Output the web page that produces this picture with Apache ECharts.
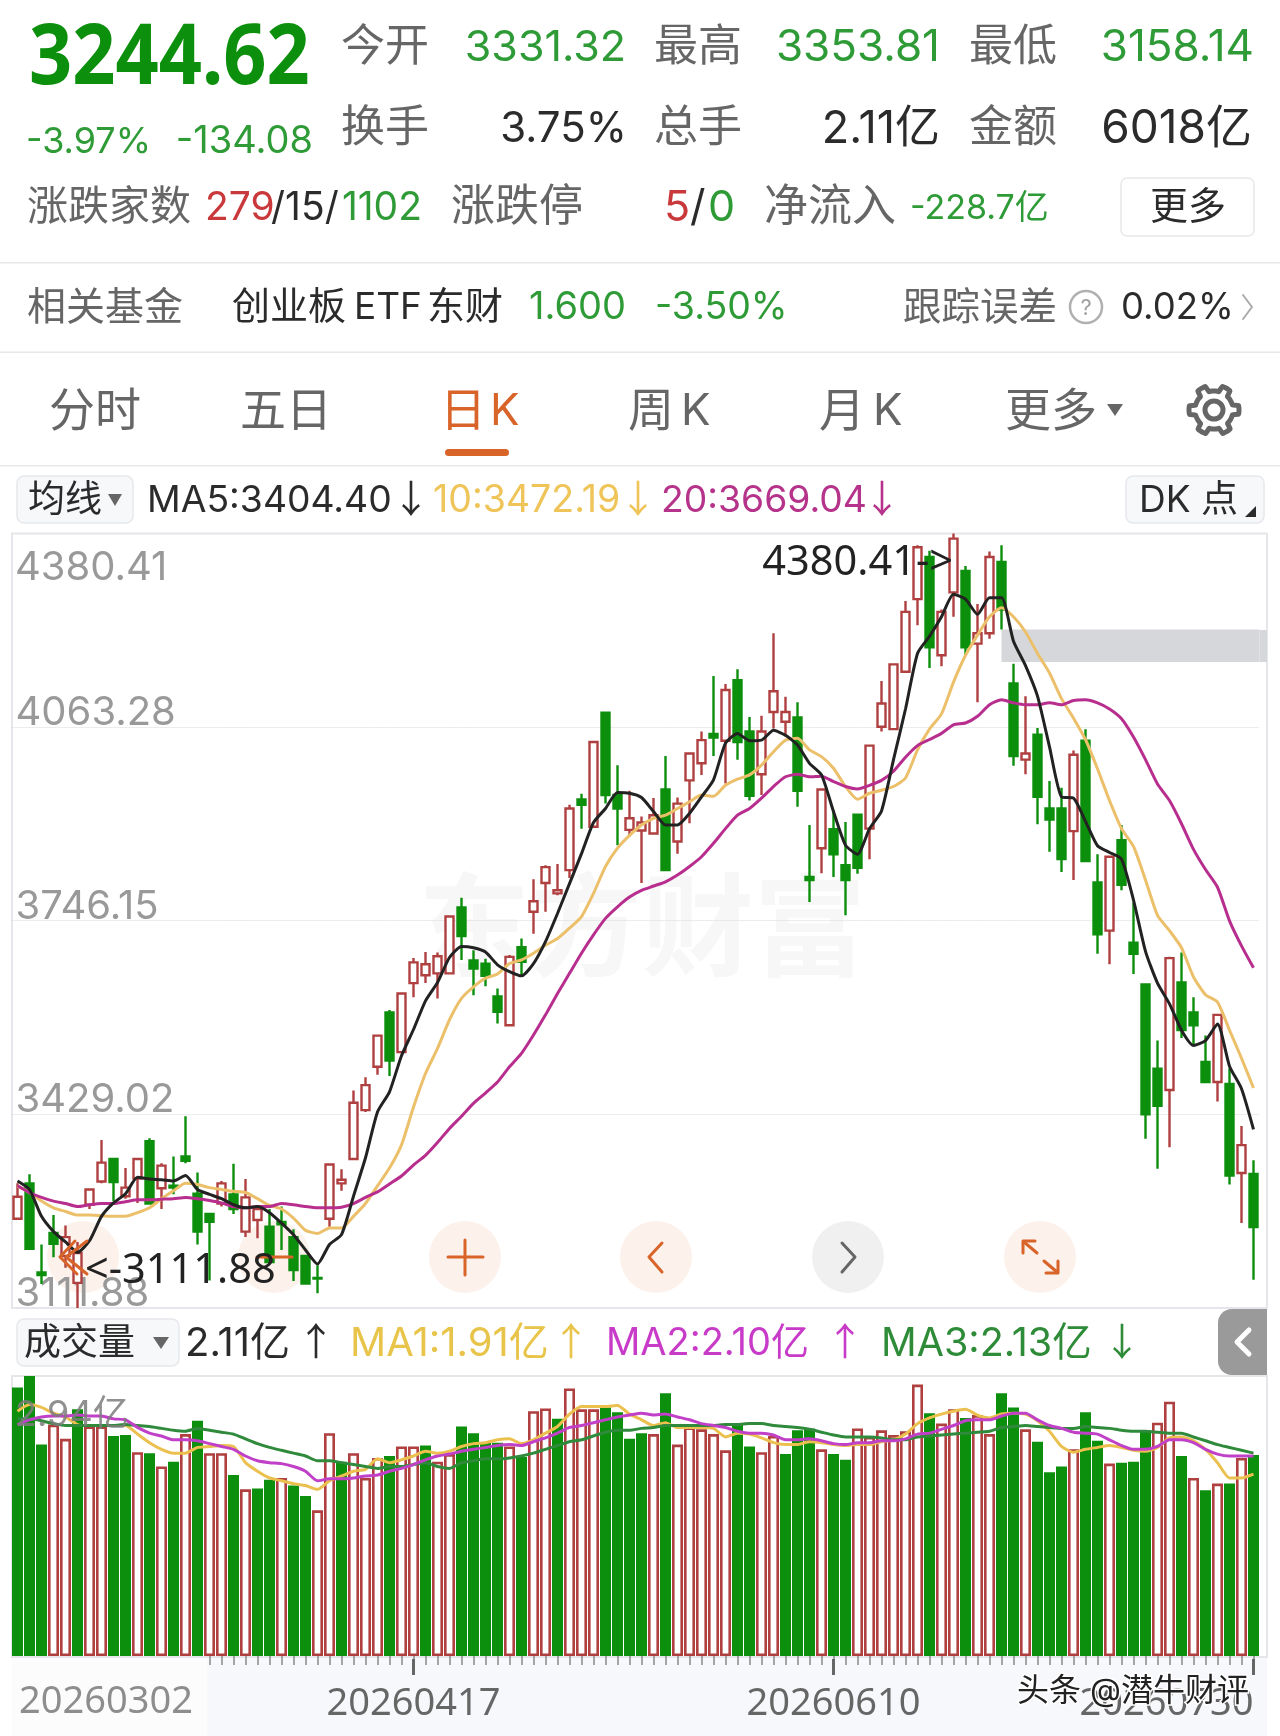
<!DOCTYPE html>
<html><head><meta charset="utf-8"><title>K</title>
<script src="https://cdn.jsdelivr.net/npm/echarts@6/dist/echarts.min.js"></script>
<style>html,body{margin:0;padding:0;background:#fff}#c{width:1280px;height:1736px}</style></head>
<body><div id="c"></div>
<script>
const dates=['20260302','20260303','20260304','20260305','20260306','20260309','20260310','20260311','20260312','20260313','20260316','20260317','20260318','20260319','20260320','20260323','20260324','20260325','20260326','20260327','20260330','20260331','20260401','20260402','20260403','20260407','20260408','20260409','20260410','20260413','20260414','20260415','20260416','20260417','20260420','20260421','20260422','20260423','20260424','20260427','20260428','20260429','20260430','20260506','20260507','20260508','20260511','20260512','20260513','20260514','20260515','20260518','20260519','20260520','20260521','20260522','20260525','20260526','20260527','20260528','20260529','20260601','20260602','20260603','20260604','20260605','20260608','20260609','20260610','20260611','20260612','20260615','20260616','20260617','20260618','20260622','20260623','20260624','20260625','20260626','20260629','20260630','20260701','20260702','20260703','20260706','20260707','20260708','20260709','20260710','20260713','20260714','20260715','20260716','20260717','20260720','20260721','20260722','20260723','20260724','20260727','20260728','20260729','20260730'];
// [open, close, low, high]
const candles=[[3258,3294,3256,3316],[3316,3209,3207,3331],[3170,3166,3151,3216],[3235,3217,3195,3264],[3197,3228,3178,3247],[3153,3202,3111.88,3220],[3281,3306,3274,3308],[3319,3350,3316,3387],[3356,3318,3287,3358],[3295,3309,3291,3341],[3324,3356,3284,3358],[3385,3283,3281,3390],[3308,3345,3274,3349],[3312,3309,3298,3360],[3360,3353,3349,3426],[3299,3237,3216,3334],[3266,3253,3157,3268],[3283,3316,3278,3320],[3298,3274,3266,3348],[3237,3293,3228,3323],[3256,3274,3226,3278],[3245,3187,3187,3274],[3253,3249,3207,3278],[3228,3174,3156,3241],[3197,3152,3152,3197],[3161,3160,3136,3182],[3258,3347,3245,3349],[3316,3322,3304,3339],[3356,3448,3354,3468],[3436,3477,3433,3490],[3507,3558,3494,3560],[3596,3517,3492,3600],[3531,3627,3529,3629],[3644,3678,3621,3685],[3657,3675,3644,3695],[3660,3688,3619,3694],[3660,3753,3659,3755],[3768,3721,3682,3784],[3681,3668,3624,3698],[3676,3656,3639,3684],[3622,3597,3578,3635],[3575,3687,3573,3690],[3703,3679,3656,3717],[3761,3778,3725,3814],[3808,3834,3761,3837],[3791,3796,3788,3839],[3829,3930,3816,3936],[3945,3936,3897,3954],[3900,4039,3899,4041],[4087,3952,3938,4089],[3952,3930,3870,4001],[3895,3914,3884,3959],[3894,3907,3808,3917],[3889,3919,3888,3947],[3961,3829,3828,4016],[3876,3938,3856,3948],[3976,4020,3906,4021],[4004,4042,3985,4056],[4052,4046,4016,4147],[4041,4124,3971,4134],[4140,4039,4010,4158],[4056,3951,3943,4080],[3986,4056,3952,4082],[4088,4122,4061,4217],[4072,4088,4048,4113],[4079,3959,3933,4104],[3818,3813,3777,3903],[3865,3961,3824,3963],[3896,3855,3818,3927],[3837,3813,3755,3908],[3920,3833,3823,3922],[3897,4033,3847,4035],[4064,4102,4056,4139],[4060,4166,4058,4168],[4154,4252,4153,4270],[4273,4358,4230,4361],[4342,4194,4160,4352],[4181,4252,4163,4256],[4284,4372,4244,4380.41],[4319,4194,4181,4327],[4200,4217,4104,4265],[4217,4342,4208,4351],[4334,4256,4223,4361],[4135,4016,4000,4167],[4010,4020,3986,4114],[4051,3949,3904,4062],[3930,3912,3859,3975],[3930,3847,3826,3964],[3893,4018,3813,4025],[4041,3844,3843,4060],[3809,3724,3692,3855],[3730,3851,3675,3853],[3878,3805,3796,3903],[3710,3692,3659,3776],[3642,3429,3389,3642],[3504,3443,3340,3550],[3469,3685,3375,3687],[3645,3567,3554,3694],[3596,3575,3542,3621],[3515,3482,3482,3558],[3482,3592,3450,3593],[3479,3329,3314,3504],[3333,3378.7,3251,3410],[3331.32,3244.62,3158.14,3353.81]];
const ma5=[3320,3306,3262,3237,3220,3203,3222,3262,3284,3299,3326,3323,3322,3320,3329,3306,3298,3291,3281,3276,3278,3268,3251,3232,3207,3184,3216,3232,3295,3358,3433,3466,3525,3568,3615,3645,3686,3704,3702,3695,3674,3663,3656,3676,3712,3758,3807,3856,3907,3930,3956,3955,3948,3925,3903,3903,3922,3949,3977,4037,4053,4041,4042,4058,4050,4034,4004,3985,3925,3870,3855,3897,3926,4010,4093,4184,4212,4244,4281,4273,4248,4275,4275,4204,4164,4114,4031,3949,3947,3909,3869,3858,3847,3780,3696,3644,3610,3567,3542,3550,3577,3508,3471,3404.40];
const ma10=[3312,3301,3287,3276,3270,3264,3264,3263,3262,3262,3268,3276,3291,3304,3316,3314,3309,3306,3303,3301,3291,3280,3274,3259,3239,3234,3243,3243,3262,3283,3312,3341,3379,3441,3496,3537,3584,3619,3638,3652,3659,3676,3682,3693,3706,3717,3734,3753,3791,3835,3865,3886,3903,3914,3919,3930,3941,3952,3950,3968,3978,3985,4001,4023,4042,4045,4026,4015,3996,3966,3945,3955,3960,3966,3980,4026,4060,4085,4137,4181,4214,4244,4259,4244,4219,4184,4152,4110,4078,4043,3995,3943,3897,3868,3813,3755,3730,3702,3654,3625,3613,3567,3521,3472.19];
const ma20=[3312,3301,3293,3287,3283,3278,3281,3283,3283,3286,3289,3289,3290,3291,3293,3291,3288,3284,3278,3276,3278,3278,3283,3281,3278,3276,3276,3277,3283,3293,3302,3315,3328,3346,3362,3383,3406,3426,3447,3464,3482,3507,3529,3559,3592,3627,3660,3693,3723,3750,3769,3785,3796,3803,3810,3821,3835,3851,3873,3897,3919,3930,3947,3966,3982,3986,3982,3983,3974,3966,3962,3968,3976,3991,4014,4033,4043,4053,4067,4070,4081,4100,4108,4103,4100,4100,4103,4100,4107,4108,4103,4093,4077,4047,4010,3970,3943,3905,3863,3830,3801,3746,3705,3669.04];
// volume in 亿, 1 = hollow red bar, 0 = green bar
const volumes=[2.82,2.94,2.22,2.43,2.28,2.59,2.41,2.41,2.31,2.32,2.14,2.13,1.99,2.04,2.33,2.47,2.13,2.13,1.90,1.75,1.76,1.85,1.87,1.79,1.68,1.53,2.34,2.04,2.13,1.87,2.08,2.10,2.20,2.20,2.21,2.04,2.12,2.41,2.34,2.24,2.24,2.20,2.09,2.57,2.60,2.49,2.81,2.59,2.59,2.61,2.56,2.28,2.34,2.33,2.76,2.22,2.40,2.38,2.33,2.16,2.44,2.20,2.14,2.31,2.12,2.37,2.39,2.17,2.12,2.06,2.39,2.30,2.37,2.32,2.36,2.85,2.55,2.44,2.59,2.50,2.53,2.33,2.76,2.61,2.38,2.25,1.93,1.99,2.17,2.56,2.26,2.02,2.03,2.04,2.37,2.45,2.67,2.10,1.87,1.74,1.81,1.81,2.08,2.11];
const volRise=[0,0,0,1,1,0,1,1,0,0,1,0,1,0,1,0,1,1,0,1,0,0,1,0,0,1,1,0,1,1,1,0,1,1,0,1,1,0,0,0,0,1,0,1,1,0,1,1,1,0,0,0,0,1,0,1,1,1,1,1,0,0,1,1,0,0,0,1,0,0,1,1,1,1,1,1,0,1,1,0,1,1,0,0,1,0,0,0,1,0,0,1,0,0,0,1,1,0,1,0,1,0,1,0];
const volMa1=[2.57,2.64,2.61,2.55,2.51,2.43,2.42,2.42,2.42,2.42,2.33,2.24,2.17,2.13,2.13,2.19,2.20,2.21,2.20,2.03,1.94,1.87,1.84,1.81,1.79,1.75,1.84,1.89,1.94,1.96,2.07,2.03,2.06,2.10,2.15,2.13,2.15,2.20,2.23,2.24,2.27,2.28,2.23,2.27,2.34,2.41,2.54,2.62,2.62,2.62,2.63,2.54,2.48,2.42,2.45,2.40,2.40,2.40,2.39,2.30,2.34,2.33,2.29,2.24,2.22,2.22,2.25,2.24,2.22,2.21,2.22,2.22,2.25,2.27,2.33,2.44,2.50,2.54,2.57,2.59,2.53,2.50,2.54,2.55,2.54,2.47,2.36,2.20,2.14,2.17,2.19,2.21,2.19,2.16,2.15,2.19,2.29,2.30,2.26,2.17,2.03,1.87,1.87,1.91];
const volMa2=[2.43,2.48,2.51,2.52,2.52,2.53,2.52,2.52,2.49,2.48,2.40,2.34,2.31,2.27,2.27,2.26,2.23,2.20,2.17,2.10,2.05,2.03,2.02,1.99,1.94,1.84,1.86,1.86,1.87,1.89,1.90,1.94,1.97,2.01,2.06,2.10,2.12,2.15,2.17,2.19,2.21,2.22,2.21,2.25,2.29,2.34,2.40,2.42,2.45,2.48,2.51,2.53,2.55,2.53,2.54,2.51,2.48,2.44,2.42,2.40,2.36,2.34,2.34,2.32,2.27,2.27,2.28,2.26,2.23,2.22,2.24,2.24,2.26,2.26,2.28,2.33,2.34,2.38,2.42,2.47,2.48,2.48,2.52,2.55,2.55,2.48,2.42,2.39,2.35,2.34,2.33,2.27,2.21,2.17,2.17,2.20,2.27,2.27,2.24,2.17,2.12,2.10,2.10,2.10];
const volMa3=[2.49,2.49,2.47,2.44,2.42,2.42,2.42,2.42,2.42,2.43,2.42,2.41,2.39,2.37,2.36,2.39,2.37,2.35,2.33,2.28,2.23,2.19,2.16,2.13,2.10,2.05,2.05,2.03,2.01,1.99,1.97,1.99,1.99,2.01,2.03,1.99,1.97,2.03,2.05,2.07,2.07,2.08,2.10,2.13,2.17,2.21,2.25,2.27,2.31,2.35,2.37,2.37,2.39,2.40,2.42,2.42,2.42,2.42,2.42,2.43,2.43,2.44,2.44,2.42,2.41,2.40,2.38,2.35,2.32,2.30,2.30,2.30,2.29,2.27,2.27,2.30,2.31,2.32,2.33,2.34,2.35,2.36,2.40,2.41,2.42,2.41,2.40,2.39,2.39,2.41,2.40,2.39,2.37,2.36,2.36,2.35,2.34,2.34,2.30,2.26,2.22,2.19,2.16,2.13];
const priceTicks=[3111.88,3429.02,3746.15,4063.28];
const priceGrid=[3429.02,3746.15,4063.28];
const dateLabelIdx=[33,68,103];
const gapBand=[4223,4170];

const FF='Inter,"Noto Sans CJK SC",sans-serif';
const FB='"Noto Sans","Noto Sans CJK SC",sans-serif';
const GREEN='#2e9b37',DG='#0c8f0c',RED='#b03f3f',GRAY='#666',INK='#2b2b2b',ORANGE='#d8642a';
const T=(x,y,text,size,fill,o={})=>({type:'text',z:o.z||1,silent:true,x,y:y+(o.dy===undefined?3:o.dy),scaleX:o.sx||1,scaleY:o.sy||1,style:{x:0,y:0,text,fill,font:(o.w||'normal')+' '+size+'px '+(o.ff||FF),align:o.a||'left',textAlign:o.a||'left',verticalAlign:'middle',textVerticalAlign:'middle',stroke:o.stroke,lineWidth:o.lw,shadowBlur:o.blur,shadowColor:o.sc}});
const R=(x,y,w,h,fill,o={})=>({type:'rect',z:o.z===undefined?0:o.z,silent:true,shape:{x,y,width:w,height:h,r:o.r||0},style:{fill,stroke:o.stroke,lineWidth:o.lw}});
const L=(pts,color,w,z=5)=>({type:'polyline',z,silent:true,shape:{points:pts},style:{stroke:color,lineWidth:w,fill:null,lineCap:'round',lineJoin:'round'}});
const TRI=(pts,fill)=>({type:'polygon',z:1,silent:true,shape:{points:pts},style:{fill}});
const C=(x,y,r,fill,o={})=>({type:'circle',z:o.z||0,silent:true,shape:{cx:x,cy:y,r},style:{fill,stroke:o.stroke,lineWidth:o.lw}});
const ARW=(x,y,ch,fill)=>T(x,y,ch,38,fill,{ff:FB});

const gearPts=[];for(let i=0;i<72;i++){const a=i*5*Math.PI/180,s=((i%12)+12)%12;const rr=(s<5)?25:19;gearPts.push([1214+rr*Math.cos(a-0.18),410+rr*Math.sin(a-0.18)]);}

const g=[
 R(0,0,1280,1736,'#fff',{z:-5}),
 R(0,262,1280,1.5,'#e8e8e8'),R(0,351.5,1280,1.5,'#e8e8e8'),R(0,465,1280,1.5,'#e8e8e8'),
 R(12,1657,1255,79,'#f7f8fb',{z:-2}),R(12,1657,195,79,'#fcfcfd',{z:-2}),
 R(12,533.5,1255,774.5,'none',{stroke:'#e4e6e9',lw:2,z:-1}),
 R(12,1376,1255,281,'none',{stroke:'#e4e6e9',lw:2,z:-1}),
 T(29,60,'3244.62',84,DG,{w:'bold',ff:FB,sx:0.9,dy:0}),
 T(26,139,'-3.97%',36,GREEN),T(313,139,'-134.08',38,GREEN,{a:'right'}),
 T(341,45,'今开',44,GRAY),T(626,45,'3331.32',43,GREEN,{a:'right'}),
 T(654,45,'最高',44,GRAY),T(940,45,'3353.81',44,GREEN,{a:'right'}),
 T(969,45,'最低',44,GRAY),T(1254,45,'3158.14',44,GREEN,{a:'right'}),
 T(341,126,'换手',44,GRAY),T(627,126,'3.75%',42,INK,{a:'right'}),
 T(654,126,'总手',44,GRAY),T(940,126,'2.11亿',45,INK,{a:'right'}),
 T(969,126,'金额',44,GRAY),T(1252,126,'6018亿',46,INK,{a:'right'}),
 T(27,205,'涨跌家数',41,GRAY),T(205,205,'279',39,'#c9383a'),T(271,205,'/15/',39,INK),T(422,205,'1102',39,GREEN,{a:'right'}),
 T(451,205,'涨跌停',44,GRAY),T(664,205,'5',43,'#c9383a'),T(690,205,'/',43,INK),T(708,205,'0',43,GREEN),
 T(764,205,'净流入',44,GRAY),T(910,206,'-228.7亿',34,GREEN),
 R(1121,178,133,58,'#fff',{stroke:'#e8e8e8',lw:1.5,r:6}),T(1188,205,'更多',38,INK,{a:'center'}),
 T(27,305,'相关基金',39,GRAY),T(232,305,'创业板',38,INK),T(354,305,'ETF',37,INK),T(427,305,'东财',38,INK),T(529,305,'1.600',38,GREEN),T(655,305,'-3.50%',37.5,GREEN),
 T(903,305,'跟踪误差',38.5,GRAY),C(1086,307,16,'#fff',{stroke:'#b0b0b0',lw:2.5}),T(1086,305,'?',22,'#a0a0a0',{a:'center'}),T(1121,305,'0.02%',36.5,INK),
 L([[1243,295],[1252,307],[1243,319]],'#aaa',2,1),
 T(49,409,'分时',46,GRAY),T(240,409,'五日',46,GRAY),T(440,409,'日',46,ORANGE),T(490,409,'K',44,ORANGE),T(628,409,'周',46,GRAY),T(681,409,'K',44,GRAY),T(819,409,'月',46,GRAY),T(873,409,'K',44,GRAY),T(1005,409,'更多',46,GRAY),
 TRI([[1107,404],[1123,404],[1115,416]],GRAY),
 R(445,449,64,7,ORANGE,{r:3.5}),
 {type:'polygon',z:1,silent:true,shape:{points:gearPts,smooth:0.2},style:{fill:'none',stroke:GRAY,lineWidth:5,lineJoin:'round'}},
 C(1214,410,9,'none',{stroke:GRAY,lw:5,z:1}),
 R(17,476,116,47,'#f7f8fa',{stroke:'#e6e8eb',lw:1.5,r:7}),T(28,498,'均线',37,INK),TRI([[108,494],[122,494],[115,506]],GRAY),
 T(147,498,'MA5:3404.40',37.3,INK),ARW(392,498,'↓',INK),
 T(433,498,'10:3472.19',37.5,'#efc458'),ARW(619,498,'↓','#efc458'),
 T(661,498,'20:3669.04',37.3,'#b5338a'),ARW(863,498,'↓','#b5338a'),
 R(1126,476,138,47,'#f7f8fa',{stroke:'#e6e8eb',lw:1.5,r:7}),T(1139,498,'DK',37,INK),T(1201,498,'点',37,INK),TRI([[1256,517],[1256,506],[1245,517]],INK),
 R(17,1319,162,47,'#f7f8fa',{stroke:'#e6e8eb',lw:1.5,r:7}),T(24,1341,'成交量',37,INK),TRI([[153,1337],[169,1337],[161,1349]],GRAY),
 T(185,1341,'2.11亿',40,INK),ARW(297,1341,'↑',INK),
 T(350,1341,'MA1:1.91亿',40,'#e8c54a'),ARW(552,1341,'↑','#e8c54a'),
 T(606,1341,'MA2:2.10亿',38,'#c83bc8'),ARW(826,1341,'↑','#c83bc8'),
 T(881,1341,'MA3:2.13亿',39.5,'#2e8b37'),ARW(1103,1341,'↓','#2e8b37'),
 R(1218,1309,49,66,'#9a9a9a',{r:[14,0,0,14]}),L([[1249,1330],[1237,1342],[1249,1354]],'#fff',5,2),
 C(83,1257,36,'rgba(232,130,70,0.11)'),C(274,1257,36,'rgba(232,130,70,0.11)'),C(465,1257,36,'rgba(232,130,70,0.11)'),C(656,1257,36,'rgba(232,130,70,0.11)'),C(848,1257,36,'rgba(0,0,0,0.06)'),C(1040,1257,36,'rgba(232,130,70,0.11)'),
 L([[87,1241],[66,1257],[87,1274]],ORANGE,3),L([[75,1241],[60,1257],[77,1274]],ORANGE,3),
 L([[257,1257],[292,1257]],ORANGE,3),
 L([[448,1257],[483,1257]],ORANGE,3),L([[465,1240],[465,1275]],ORANGE,3),
 L([[662,1243],[649,1257],[662,1272]],ORANGE,3),
 L([[842,1243],[855,1257],[842,1272]],'#666',3),
 L([[1023,1253],[1023,1241],[1035,1241]],ORANGE,3),L([[1024,1242],[1037,1253]],ORANGE,3),L([[1058,1261],[1058,1273],[1046,1273]],ORANGE,3),L([[1057,1272],[1044,1261]],ORANGE,3),
 R(1259.5,630,7.5,32,'#d5d7db',{z:1}),
 T(642,934,'东方财富',112,'#f7f7f7',{a:'center',w:'bold',z:-1,dy:0}),
 T(15,568,'4380.41',40,'#999',{dy:0}),
 T(15,1415,'2.94亿',36,'rgba(125,125,125,0.85)',{z:6,dy:0}),
 T(19,1702,'20260302',38,'rgba(50,50,50,0.55)',{ff:FB,blur:10,sc:'#000',dy:0}),
 T(1017,1691,'头条 @潜牛财评',32,'#222',{stroke:'#fff',lw:3,z:8,dy:0})
];

const line=(name,data,color,w,xi,yi,z=3)=>({name,type:'line',data,xAxisIndex:xi,yAxisIndex:yi,symbol:'none',smooth:0.2,z,lineStyle:{color,width:w},itemStyle:{color},silent:true,animation:false});
const hiddenX=(gi)=>({type:'category',gridIndex:gi,data:dates,position:'bottom',axisLine:{show:false},axisTick:{show:false},axisLabel:{show:false},splitLine:{show:false},axisPointer:{show:false}});

const option={
 animation:false,backgroundColor:'#fff',
 textStyle:{fontFamily:FF},
 graphic:{elements:g},
 grid:[{left:11.5,top:533.5,width:1248,height:774.5,containLabel:false},{left:11.5,top:1376,width:1248,height:280,containLabel:false}],
 xAxis:[hiddenX(0),
  {type:'category',gridIndex:1,data:dates,position:'bottom',offset:3,axisLine:{show:false},
   axisTick:{show:true,alignWithLabel:true,length:9,lineStyle:{color:'#8a8a8a',width:1.5},interval:(i)=>i>=16},
   axisLabel:{show:true,interval:(i)=>dateLabelIdx.includes(i),color:'#666',fontSize:38,margin:26,fontFamily:FB,alignMaxLabel:'right',hideOverlap:false},
   splitLine:{show:false}},
  {type:'category',gridIndex:1,data:dates,position:'bottom',offset:3,axisLine:{show:false},
   axisTick:{show:true,alignWithLabel:true,length:16,lineStyle:{color:'#666',width:3},interval:(i)=>dateLabelIdx.includes(i)},
   axisLabel:{show:false},splitLine:{show:false}}],
 yAxis:[{type:'value',gridIndex:0,min:3111.88,max:4380.41,scale:true,
   axisLine:{show:false},axisTick:{show:false,customValues:priceGrid},
   axisLabel:{show:true,inside:true,margin:4,customValues:priceTicks,formatter:(v)=>Number(v).toFixed(2),color:'#999',fontSize:40,fontFamily:FF,verticalAlign:'bottom',lineHeight:28},
   splitLine:{show:true,lineStyle:{color:'#d9d9d9',type:'dotted',width:1}}},
  {type:'value',gridIndex:1,min:0,max:2.94,axisLine:{show:false},axisTick:{show:false},axisLabel:{show:false},splitLine:{show:false}}],
 series:[
  {name:'日K',type:'candlestick',data:candles,xAxisIndex:0,yAxisIndex:0,barWidth:8.5,z:2,
   itemStyle:{color:'#fff',color0:DG,borderColor:RED,borderColor0:DG,borderWidth:2.4},
   markArea:{silent:true,itemStyle:{color:'#d5d7db'},data:[[{xAxis:dates[82],yAxis:gapBand[0]},{yAxis:gapBand[1]}]]},
   markPoint:{silent:true,symbol:'circle',symbolSize:1,itemStyle:{color:'transparent'},data:[
     {coord:[dates[78],4380.41],label:{show:true,position:'left',distance:0,offset:[0,30],formatter:'4380.41->',color:'#222',fontSize:41.5,fontFamily:FB}},
     {coord:[dates[5],3111.88],label:{show:true,position:'right',distance:0,offset:[7,-37],formatter:'<-3111.88',color:'#222',fontSize:41.5,fontFamily:FB}}
   ]}},
  line('MA5',ma5,'#222',3,0,0,4),
  line('MA10',ma10,'#ecc06a',3,0,0,3),
  line('MA20',ma20,'#b82e8e',3,0,0,3),
  {name:'成交量',type:'bar',xAxisIndex:1,yAxisIndex:1,barWidth:11,z:2,
   data:volumes.map((v,i)=>({value:v,itemStyle:volRise[i]?{color:'#fff',borderColor:RED,borderWidth:2.6}:{color:DG,borderWidth:0}}))},
  line('MA1',volMa1,'#ecc04e',3,1,1,3),
  line('MA2',volMa2,'#c040c8',3,1,1,4),
  line('MA3',volMa3,'#2f8a3c',3,1,1,3)
 ]
};
const chart=echarts.init(document.getElementById('c'),null,{renderer:'canvas',width:1280,height:1736});
chart.setOption(option);
</script></body></html>
